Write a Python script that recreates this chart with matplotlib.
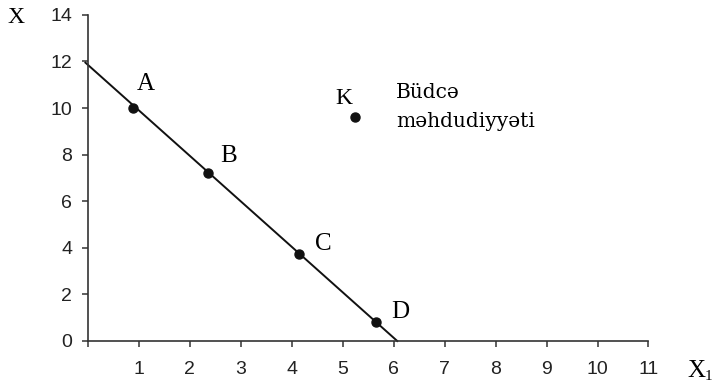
from matplotlib import pyplot as plt

# budget line endpoints (X1, X)
line_x = [-0.05, 6.07]
line_y = [11.95, 0.0]

point_names = ['A', 'B', 'C', 'D']
point_x = [0.88, 2.35, 4.14, 5.65]
point_y = [10.0, 7.21, 3.72, 0.82]
label_x = [1.13, 2.76, 4.62, 6.12]
label_y = [11.05, 7.94, 4.16, 1.24]

k_x, k_y = 5.24, 9.61
budget_lines = ['Büdcə', 'məhdudiyyəti']
budget_base_y = [10.43, 9.18]

xticks = list(range(1, 12))
yticks = list(range(0, 15, 2))

serif = ['Liberation Serif', 'DejaVu Serif']
sans = ['Liberation Sans']

fig = plt.figure(figsize=(7.14, 3.85), dpi=100)
ax = fig.add_axes([0.1232, 0.1143, 0.785, 0.847])

ax.plot(line_x, line_y, color='#111111', lw=1.4, clip_on=False)
ax.plot(point_x, point_y, 'o', color='#111111', ms=6.5, clip_on=False)
ax.plot([k_x], [k_y], 'o', color='#111111', ms=6.5)

for name, lx, ly in zip(point_names, label_x, label_y):
    ax.text(lx, ly, name, family=serif, fontsize=18, ha='center', va='center')
ax.text(5.02, 10.4, 'K', family=serif, fontsize=17, ha='center', va='center')
for txt, by in zip(budget_lines, budget_base_y):
    ax.text(6.05, by, txt, family=['DejaVu Serif'], fontsize=14.5,
            ha='left', va='baseline')

ax.set_xlim(0, 11)
ax.set_ylim(0, 14)
ax.set_xticks([0] + xticks)
ax.set_xticklabels([''] + [str(t) for t in xticks])
ax.set_yticks(yticks)

for s in ['top', 'right']:
    ax.spines[s].set_visible(False)
for s in ['left', 'bottom']:
    ax.spines[s].set_color('#333333')
    ax.spines[s].set_linewidth(1.2)

ax.tick_params(axis='y', direction='out', length=4.3, width=1.1, color='#333333',
               pad=7, labelsize=14)
ax.tick_params(axis='x', direction='out', length=4.3, width=1.1, color='#333333',
               pad=10, labelsize=14)
for lab in ax.get_xticklabels() + ax.get_yticklabels():
    lab.set_family(sans)
    lab.set_color('#222222')

fig.text(15.5 / 714, 1 - 17.5 / 385, 'X', family=serif, fontsize=17, ha='center', va='center')
fig.text(696 / 714, 1 - 371 / 385, 'X', family=serif, fontsize=18, ha='center', va='center')
fig.text(708.5 / 714, 1 - 377 / 385, '1', family=serif, fontsize=11, ha='center', va='center')

fig.savefig('out.png', dpi=100)
